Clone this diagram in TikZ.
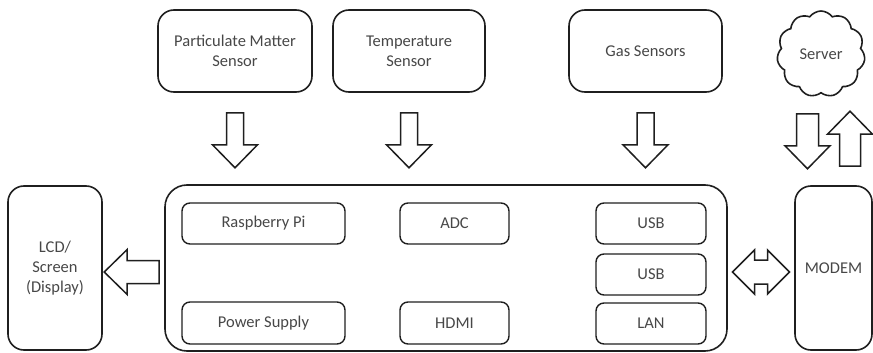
\documentclass[tikz,border=0pt]{standalone}
\usepackage{fontspec}
\setmainfont{Carlito}
\usetikzlibrary{shapes.symbols,calc}
\colorlet{outline}{black!88}
\colorlet{label}{black!72}
\tikzset{
  every box/.style={draw=outline, line width=1.6pt, inner sep=0pt, align=center,
    text=label, font=\fontsize{16.5}{20}\selectfont},
  block/.style={every box, rounded corners=16pt},
  part/.style={every box, rounded corners=8pt, line width=1.4pt},
  arrow body/.style={draw=outline, line width=1.5pt, fill=white, line join=miter},
  pics/block arrow/.style={code={
    \draw[arrow body] (0,-#1) -- (32,-#1) -- (32,-22.5) -- (55,0) -- (32,22.5)
      -- (32,#1) -- (0,#1) -- cycle;
  }},
  pics/double block arrow/.style={code={
    \draw[arrow body] (-28.5,0) -- (-6.5,-22) -- (-6.5,-12) -- (6.5,-12) -- (6.5,-22)
      -- (28.5,0) -- (6.5,22) -- (6.5,12) -- (-6.5,12) -- (-6.5,22) -- cycle;
  }}
}

\begin{document}
\begin{tikzpicture}[x=1pt, y=-1pt]
\useasboundingbox (0,0) rectangle (873,353);

% sensors and cloud
\node[block, minimum width=154pt, minimum height=82pt] (pm) at (235,51) {Particulate Matter\\Sensor};
\node[block, minimum width=152pt, minimum height=82pt] (temp) at (409,51) {Temperature\\Sensor};
\node[block, minimum width=153pt, minimum height=82pt] (gas) at (645.5,51) {Gas Sensors};
\node[every box, cloud, cloud puffs=11, cloud puff arc=110, aspect=1,
  minimum width=88pt, minimum height=86pt] (server) at (821,54) {Server};

% main board
\node[block, rounded corners=22pt, minimum width=562pt, minimum height=166pt] (main) at (446,268) {};
\node[part, minimum width=163pt, minimum height=41pt] (rpi) at (263.5,223.5) {Raspberry Pi};
\node[part, minimum width=163pt, minimum height=42pt] (power) at (263.5,323) {Power Supply};
\node[part, minimum width=109pt, minimum height=41pt] (adc) at (454.5,223.5) {ADC};
\node[part, minimum width=109pt, minimum height=42pt] (hdmi) at (454.5,323) {HDMI};
\node[part, minimum width=110pt, minimum height=41pt] (usba) at (651,223.5) {USB};
\node[part, minimum width=110pt, minimum height=41pt] (usbb) at (651,274.5) {USB};
\node[part, minimum width=110pt, minimum height=41pt] (lan) at (651,323.5) {LAN};

% display and modem
\node[block, minimum width=94pt, minimum height=164pt] (lcd) at (55,268) {LCD/\\Screen\\(Display)};
\node[block, minimum width=77pt, minimum height=164pt] (modem) at (833.5,268) {MODEM};

% block arrows
\pic[rotate=-90] at ([yshift=-20pt]pm.south) {block arrow=8.5};
\pic[rotate=-90] at ([yshift=-20pt]temp.south) {block arrow=8.5};
\pic[rotate=-90] at ([yshift=-20pt]gas.south) {block arrow=8.5};
\pic[rotate=-90] at ($(server.center |- pm.south)+(-13.5,21)$) {block arrow=11};
\pic[rotate=90] at ($(modem.north)+(16.5,-19)$) {block arrow=10.5};
\pic[rotate=180] at ([xshift=-5pt,yshift=-4pt]main.west) {block arrow=11.5};
\pic at ($(main.east)!0.5!(modem.west)+(0,4)$) {double block arrow};
\end{tikzpicture}
\end{document}
